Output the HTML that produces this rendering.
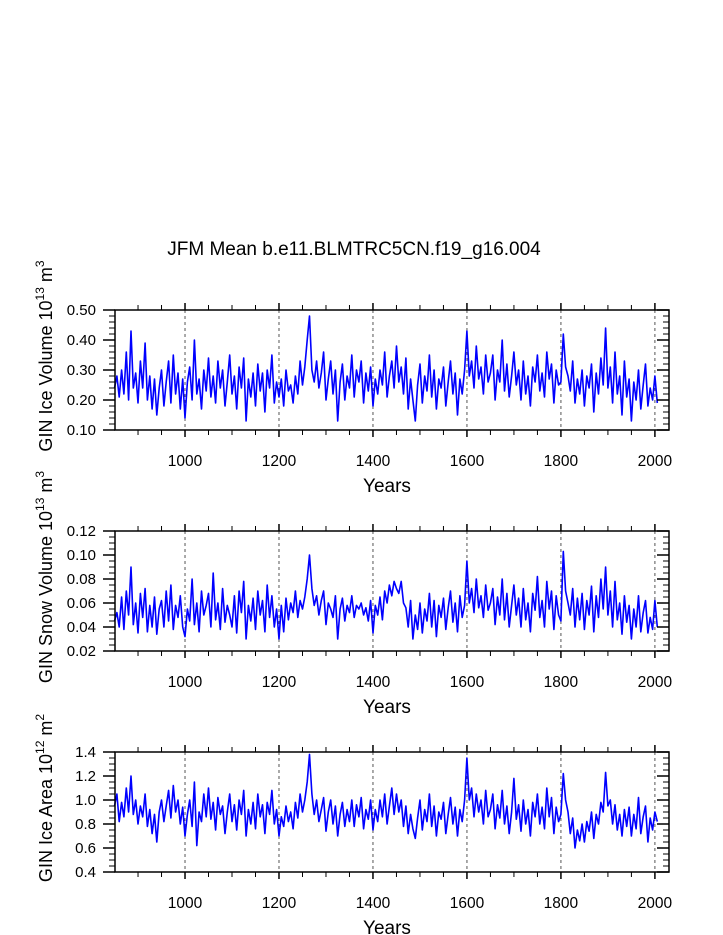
<!DOCTYPE html>
<html><head><meta charset="utf-8"><style>
html,body{margin:0;padding:0;background:#fff;}
svg{display:block;font-family:"Liberation Sans",Arial,sans-serif;}
</style></head><body>
<svg id="chart" width="723" height="935" viewBox="0 0 723 935">
<text x="354" y="255" text-anchor="middle" font-size="19">JFM Mean b.e11.BLMTRC5CN.f19_g16.004</text>
</svg>
<script>
const startYear = 850;
const yearStep = 5;
const iceVolume = [.24,.28,.21,.30,.22,.36,.20,.43,.24,.29,
.19,.33,.24,.39,.20,.28,.17,.27,.15,.24,
.30,.18,.26,.33,.19,.35,.22,.29,.17,.27,
.14,.26,.31,.20,.40,.22,.27,.17,.30,.23,
.34,.21,.28,.19,.33,.24,.30,.18,.26,.35,
.22,.28,.17,.31,.24,.34,.13,.27,.21,.29,
.18,.32,.23,.29,.16,.30,.24,.35,.19,.26,
.21,.27,.18,.30,.23,.25,.19,.28,.22,.33,
.25,.31,.40,.48,.30,.26,.33,.24,.29,.36,
.20,.27,.33,.22,.30,.13,.26,.32,.20,.28,
.24,.35,.21,.30,.26,.33,.19,.29,.23,.31,
.18,.27,.22,.30,.25,.36,.21,.28,.33,.24,
.38,.26,.31,.22,.34,.17,.27,.20,.13,.25,
.32,.19,.28,.23,.35,.21,.30,.17,.27,.24,
.31,.18,.26,.33,.22,.29,.15,.27,.22,.30,
.43,.28,.33,.24,.38,.27,.31,.22,.35,.26,
.29,.35,.20,.30,.26,.40,.23,.32,.21,.28,
.36,.25,.30,.20,.33,.22,.28,.18,.31,.26,
.35,.23,.29,.21,.36,.27,.32,.19,.30,.25,
.26,.42,.31,.28,.23,.33,.19,.27,.22,.30,
.18,.28,.24,.32,.16,.29,.22,.34,.25,.44,
.24,.31,.19,.36,.22,.28,.15,.33,.21,.27,
.13,.26,.20,.30,.17,.25,.32,.18,.24,.20,
.28,.19];
const snowVolume = [.045,.052,.040,.065,.038,.070,.050,.090,.042,.060,
.035,.068,.048,.072,.036,.058,.040,.065,.034,.055,
.062,.040,.070,.045,.075,.038,.058,.048,.066,.040,
.032,.055,.045,.080,.042,.060,.036,.070,.050,.058,
.068,.040,.085,.046,.060,.038,.072,.044,.058,.050,
.040,.066,.035,.070,.052,.078,.030,.058,.045,.064,
.038,.070,.050,.062,.036,.075,.048,.066,.040,.055,
.030,.058,.036,.064,.046,.060,.052,.070,.048,.062,
.055,.065,.080,.100,.072,.058,.066,.050,.062,.070,
.042,.060,.055,.048,.066,.030,.055,.064,.045,.058,
.052,.066,.048,.058,.055,.060,.050,.056,.045,.062,
.035,.058,.050,.065,.046,.070,.060,.075,.066,.078,
.072,.068,.078,.060,.056,.040,.062,.030,.050,.038,
.060,.035,.055,.045,.068,.040,.062,.032,.058,.048,
.064,.038,.056,.070,.044,.060,.036,.066,.048,.058,
.095,.060,.072,.052,.080,.056,.066,.048,.075,.054,
.060,.072,.042,.065,.050,.080,.046,.068,.040,.058,
.075,.050,.064,.040,.072,.046,.060,.036,.068,.054,
.082,.048,.062,.040,.078,.055,.070,.038,.066,.050,
.045,.103,.070,.060,.050,.072,.040,.064,.046,.068,
.038,.062,.050,.074,.036,.066,.048,.080,.055,.090,
.050,.070,.040,.078,.046,.060,.034,.066,.044,.058,
.030,.055,.040,.066,.036,.052,.062,.035,.048,.038,
.062,.040];
const iceArea = [.95,1.05,.82,.98,.86,1.10,.90,1.20,.88,1.00,
.80,.95,.86,1.05,.78,.92,.72,.88,.65,.90,
1.00,.82,.95,1.08,.85,1.12,.90,1.00,.80,.94,
.70,.88,1.00,.78,1.15,.62,.90,.82,1.05,.86,
1.10,.84,.98,.75,1.02,.88,.95,.72,.90,1.05,
.82,.96,.75,1.00,.88,1.08,.70,.92,.80,.98,
.76,1.05,.86,.96,.72,.98,.88,1.08,.80,.92,
.70,.86,.78,.95,.82,.90,.76,.98,.85,1.05,
.90,1.00,1.15,1.38,1.05,.88,1.00,.82,.92,1.02,
.74,.90,1.00,.80,.95,.70,.88,.98,.78,.92,
.82,1.00,.78,.96,.86,1.02,.76,.92,.84,1.00,
.75,.92,.82,1.00,.86,1.05,.80,.95,1.10,.88,
1.05,.90,1.00,.78,.95,.72,.88,.76,.68,.85,
1.00,.75,.92,.82,1.05,.78,.95,.70,.90,.84,
.98,.72,.88,1.02,.80,.94,.70,.92,.82,1.00,
1.35,1.00,1.10,.86,1.05,.90,1.00,.80,1.08,.86,
.92,1.05,.76,.96,.85,1.08,.80,.95,.72,.90,
1.18,.84,.96,.74,1.00,.80,.92,.70,.98,.86,
1.05,.80,.94,.76,1.10,.86,1.02,.72,.94,.82,
.88,1.22,1.00,.90,.72,.85,.60,.75,.66,.80,
.65,.82,.74,.90,.68,.88,.80,.98,.90,1.23,
.95,1.00,.80,.96,.75,.88,.70,.92,.78,.94,
.70,.88,.76,1.02,.72,.86,.95,.65,.85,.75,
.90,.82];
const xTickLabels = [1000,1200,1400,1600,1800,2000];
const iceVolTicks = [0.10,0.20,0.30,0.40,0.50];
const snowTicks = [0.02,0.04,0.06,0.08,0.10,0.12];
const areaTicks = [0.4,0.6,0.8,1.0,1.2,1.4];

const NS = "http://www.w3.org/2000/svg";
const svg = document.getElementById('chart');
function mk(tag, attrs, parent){const e=document.createElementNS(NS,tag);for(const k in attrs)e.setAttribute(k,attrs[k]);(parent||svg).appendChild(e);return e;}

const X0=115, X1=669, yrMin=851, yrMax=2030;
const xScale = y => X0 + (y-yrMin)/(yrMax-yrMin)*(X1-X0);

function panel(name, top, data, ticks, decimals, nMinor, titleParts){
  const bot = top+120;
  const ymin = ticks[0], ymax = ticks[ticks.length-1];
  const yScale = v => bot - (v-ymin)/(ymax-ymin)*(bot-top);
  const g = mk('g',{});
  
  
  xTickLabels.forEach(t=>{
    const l = mk('line',{x1:xScale(t),x2:xScale(t),y1:top,y2:bot,stroke:'#555','stroke-width':1,'stroke-dasharray':'3,3'},g);
    
    
  });
  let d='';
  data.forEach((v,i)=>{d+=(i?'L':'M')+xScale(startYear+i*yearStep).toFixed(1)+','+yScale(v).toFixed(1);});
  const p = mk('path',{d:d,fill:'none',stroke:'#0000ff','stroke-width':1.6,'stroke-linejoin':'round'},g);
  
  
  const r = mk('rect',{x:X0,y:top,width:X1-X0,height:bot-top,fill:'none',stroke:'#000','stroke-width':1.5},g);
  
  
  for(let yr=900; yr<=2005; yr+=50){
    const major = yr%200===0;
    const len = major?7:5;
    mk('line',{x1:xScale(yr),x2:xScale(yr),y1:top,y2:top-len,stroke:'#000','stroke-width':major?1.5:1},g);
    mk('line',{x1:xScale(yr),x2:xScale(yr),y1:bot,y2:bot+len,stroke:'#000','stroke-width':major?1.5:1},g);
  }
  xTickLabels.forEach(t=>{
    const tx = mk('text',{x:xScale(t),y:bot+36,'text-anchor':'middle','font-size':15.5},g);
    tx.textContent=t;
    
    
  });
  const yt = mk('text',{x:387,y:bot+62,'text-anchor':'middle','font-size':19},g);
  yt.textContent='Years';
  
  
  const step = ticks[1]-ticks[0];
  for(let i=0;i<ticks.length;i++){
    const v=ticks[i], y=yScale(v);
    mk('line',{x1:X0,x2:X0-12,y1:y,y2:y,stroke:'#000','stroke-width':1.5},g);
    mk('line',{x1:X1,x2:X1-12,y1:y,y2:y,stroke:'#000','stroke-width':1.5},g);
    const lb = mk('text',{x:X0-19,y:y+5,'text-anchor':'end','font-size':15},g);
    lb.textContent=v.toFixed(decimals);
    
    
    if(i<ticks.length-1){
      for(let m=1;m<nMinor;m++){
        const ym=yScale(v+step*m/nMinor);
        mk('line',{x1:X0,x2:X0-6,y1:ym,y2:ym,stroke:'#000','stroke-width':1},g);
        mk('line',{x1:X1,x2:X1-6,y1:ym,y2:ym,stroke:'#000','stroke-width':1},g);
      }
    }
  }
  const cy = (top+bot)/2;
  const tt = mk('text',{x:0,y:0,'text-anchor':'middle','font-size':18,transform:`translate(52,${cy-14}) rotate(-90)`},g);
  
  
  tt.appendChild(document.createTextNode(titleParts[0]));
  const s1=mk('tspan',{dy:-8,'font-size':12},tt); s1.textContent=titleParts[1];
  const s2=mk('tspan',{dy:8},tt); s2.textContent=' m';
  const s3=mk('tspan',{dy:-8,'font-size':12},tt); s3.textContent=titleParts[2];
}
panel('ice-volume',310,iceVolume,iceVolTicks,2,5,['GIN Ice Volume 10','13','3']);
panel('snow-volume',531,snowVolume,snowTicks,2,4,['GIN Snow Volume 10','13','3']);
panel('ice-area',752,iceArea,areaTicks,1,4,['GIN Ice Area 10','12','2']);
</script>
</body></html>
